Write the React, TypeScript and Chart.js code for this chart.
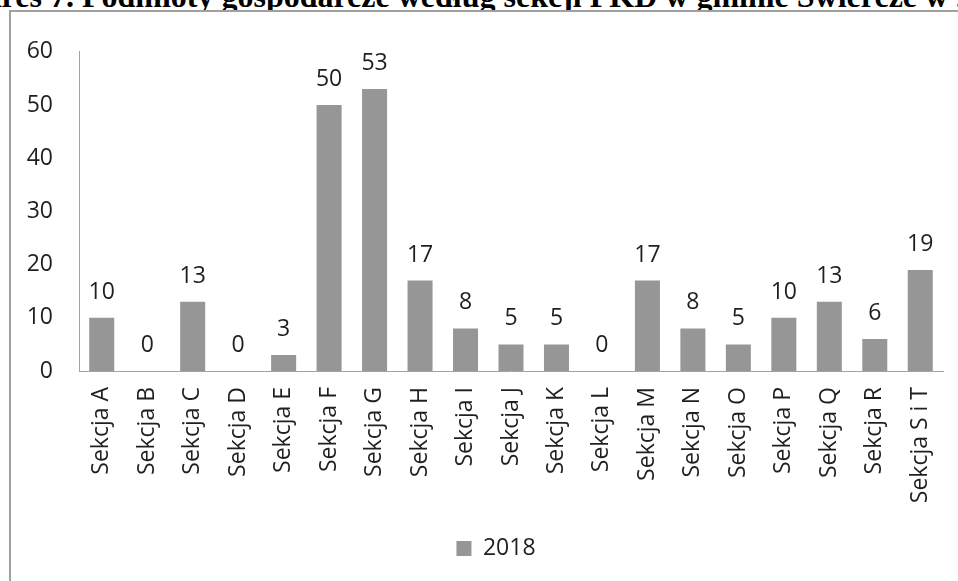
import React, { useEffect, useRef } from "react";
import { Chart, registerables } from "chart.js";

Chart.register(...registerables);

const TITLE = "Wykres 7. Podmioty gospodarcze według sekcji PKD w gminie Świercze w 2018 r.";
const CATEGORIES = [
  "Sekcja A", "Sekcja B", "Sekcja C", "Sekcja D", "Sekcja E", "Sekcja F", "Sekcja G",
  "Sekcja H", "Sekcja I", "Sekcja J", "Sekcja K", "Sekcja L", "Sekcja M", "Sekcja N",
  "Sekcja O", "Sekcja P", "Sekcja Q", "Sekcja R", "Sekcja S i T",
];
const SERIES_NAME = "2018";
const VALUES = [10, 0, 13, 0, 3, 50, 53, 17, 8, 5, 5, 0, 17, 8, 5, 10, 13, 6, 19];
const Y_MIN = 0;
const Y_MAX = 60;
const Y_STEP = 10;

const BAR_COLOR = "#969696";
const AXIS_COLOR = "#a3a3a3";
const TEXT_COLOR = "#1f1f1f";
const FONT_FAMILY = "'Open Sans', sans-serif";
const FONT = { family: FONT_FAMILY, size: 23 };

const dataLabels = {
  id: "dataLabels",
  afterDatasetsDraw(chart: any) {
    const ctx = chart.ctx;
    const meta = chart.getDatasetMeta(0);
    const data = chart.data.datasets[0].data;
    ctx.save();
    ctx.font = `23px ${FONT_FAMILY}`;
    ctx.fillStyle = TEXT_COLOR;
    ctx.textAlign = "center";
    ctx.textBaseline = "alphabetic";
    meta.data.forEach((el: any, i: number) => {
      ctx.fillText(String(data[i]), el.x, el.y - 19);
    });
    ctx.restore();
  },
};

export default function App() {
  const ref = useRef<HTMLCanvasElement | null>(null);

  useEffect(() => {
    if (!ref.current) return;
    const chart = new Chart(ref.current, {
      type: "bar",
      data: {
        labels: CATEGORIES,
        datasets: [
          {
            label: SERIES_NAME,
            data: VALUES,
            backgroundColor: BAR_COLOR,
            borderWidth: 0,
            barPercentage: 0.55,
            categoryPercentage: 1,
          },
        ],
      },
      plugins: [dataLabels],
      options: {
        animation: false,
        responsive: false,
        maintainAspectRatio: false,
        devicePixelRatio: 1,
        layout: { padding: { top: 29, right: 0, bottom: 11, left: 0 } },
        plugins: {
          legend: {
            display: true,
            position: "bottom",
            labels: {
              font: FONT,
              color: TEXT_COLOR,
              boxWidth: 15,
              boxHeight: 15,
              padding: 10,
            },
          },
          tooltip: { enabled: false },
          title: { display: false },
        },
        scales: {
          x: {
            grid: { display: false, drawTicks: false },
            border: { display: true, color: AXIS_COLOR, width: 1 },
            ticks: {
              autoSkip: false,
              minRotation: 90,
              maxRotation: 90,
              padding: 16,
              font: FONT,
              color: TEXT_COLOR,
            },
            afterFit: (s: any) => {
              s.height = 156;
            },
          },
          y: {
            min: Y_MIN,
            max: Y_MAX,
            ticks: { stepSize: Y_STEP, padding: 26, font: FONT, color: TEXT_COLOR },
            grid: { display: false, drawTicks: false },
            border: { display: true, color: AXIS_COLOR, width: 1 },
            afterFit: (s: any) => {
              s.width = 68;
            },
          },
          yRight: {
            position: "right",
            display: true,
            min: Y_MIN,
            max: Y_MAX,
            grid: { display: false, drawTicks: false },
            border: { display: false },
            ticks: { display: false },
            afterFit: (s: any) => {
              s.width = 38;
            },
          },
        },
      },
    } as any);
    return () => chart.destroy();
  }, []);

  return (
    <div
      style={{
        position: "fixed",
        left: 0,
        top: 0,
        width: 958,
        height: 581,
        overflow: "hidden",
        background: "#fff",
      }}
    >
      <div
        style={{
          position: "absolute",
          left: -63,
          top: -20,
          font: "bold 32px 'Liberation Serif', 'Times New Roman', serif",
          lineHeight: "32px",
          whiteSpace: "nowrap",
          color: "#000",
        }}
      >
        {TITLE}
      </div>
      <div
        style={{
          position: "absolute",
          left: 9,
          top: 10,
          width: 2000,
          height: 2000,
          borderLeft: "2px solid #a0a0a0",
          borderTop: "2px solid #a0a0a0",
          background: "#fff",
          zIndex: 1,
        }}
      >
        <canvas ref={ref} width={970} height={569} style={{ display: "block", width: 970, height: 569 }} />
      </div>
    </div>
  );
}
